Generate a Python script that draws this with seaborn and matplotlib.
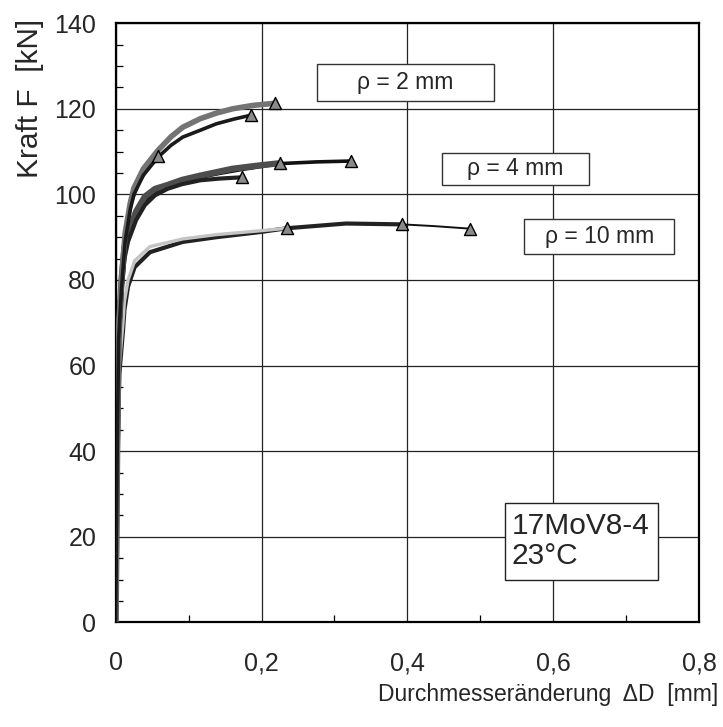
import numpy as np
import pandas as pd
import matplotlib
matplotlib.use('Agg')
import matplotlib.pyplot as plt
from matplotlib.patches import Rectangle
from matplotlib.ticker import MultipleLocator, FuncFormatter
import seaborn as sns

# Messkurven Kraft F [kN] ueber Durchmesseraenderung dD [mm]
rho2_a_x = [0, 0.002, 0.004, 0.008, 0.013, 0.020, 0.025, 0.038, 0.058, 0.076, 0.092, 0.116, 0.138, 0.160, 0.188, 0.218]
rho2_a_f = [0, 40, 68, 80, 91, 98, 101.5, 106, 110.3, 113.5, 115.7, 117.7, 119.0, 120.0, 120.8, 121.3]
rho2_b_x = [0, 0.002, 0.004, 0.008, 0.013, 0.020, 0.025, 0.038, 0.058, 0.076, 0.092, 0.116, 0.138, 0.162, 0.185]
rho2_b_f = [0, 38, 66, 78, 89, 96.5, 100, 104.5, 108.7, 111.5, 113.4, 115.0, 116.5, 117.6, 118.5]
rho2_c_x = [0, 0.002, 0.004, 0.008, 0.013, 0.020, 0.030, 0.045, 0.058]
rho2_c_f = [0, 39, 67, 79, 90, 97.5, 102.5, 106.5, 109.0]

rho4_a_x = [0, 0.002, 0.004, 0.008, 0.012, 0.017, 0.028, 0.040, 0.054, 0.071, 0.091, 0.116, 0.142, 0.173]
rho4_a_f = [0, 38, 65, 77, 85, 89, 94, 97.5, 99.8, 101.3, 102.4, 103.3, 103.7, 104.0]
rho4_b_x = [0, 0.002, 0.004, 0.008, 0.012, 0.017, 0.028, 0.040, 0.054, 0.071, 0.091, 0.116, 0.138, 0.160, 0.193, 0.225]
rho4_b_f = [0, 40, 67, 80, 87.5, 91, 96, 99.5, 101.3, 102.2, 103.4, 104.4, 105.2, 106.0, 106.7, 107.3]
rho4_c_x = [0, 0.002, 0.004, 0.008, 0.012, 0.017, 0.028, 0.040, 0.054, 0.071, 0.091, 0.116, 0.142, 0.172, 0.225, 0.275, 0.322]
rho4_c_f = [0, 39, 66, 78, 86.5, 90, 95, 98.5, 100.7, 101.8, 103, 104, 104.9, 105.8, 107.2, 107.6, 107.8]

rho10_a_x = [0, 0.002, 0.005, 0.008, 0.010, 0.012, 0.017, 0.026, 0.047, 0.092, 0.138, 0.198, 0.235]
rho10_a_f = [0, 35, 60, 66, 70, 75, 80, 84.5, 87.8, 89.6, 90.6, 91.5, 92.1]
rho10_b_x = [0, 0.002, 0.005, 0.008, 0.010, 0.012, 0.017, 0.026, 0.047, 0.092, 0.138, 0.198, 0.235, 0.316, 0.393]
rho10_b_f = [0, 34, 58, 64, 68, 73, 78.5, 83, 86.5, 88.9, 90.0, 91.2, 92.1, 93.2, 93.0]
rho10_c_x = [0, 0.002, 0.005, 0.008, 0.010, 0.012, 0.017, 0.026, 0.047, 0.092, 0.138, 0.198, 0.235, 0.316, 0.393, 0.436, 0.486]
rho10_c_f = [0, 34, 58, 64, 68, 73, 78.5, 83, 86.5, 88.9, 90.0, 91.2, 92.1, 93.2, 93.0, 92.6, 92.0]

# Beschriftungen
rho_labels = ['ρ = 2 mm', 'ρ = 4 mm', 'ρ = 10 mm']
rho_label_x = [0.397, 0.548, 0.663]
rho_label_f = [126.1, 106.0, 90.2]
werkstoff = '17MoV8-4\n23°C'
x_ticks = [0, 0.2, 0.4, 0.6, 0.8]
y_ticks = [0, 20, 40, 60, 80, 100, 120, 140]

sns.set_style('white')
plt.rcParams['font.family'] = ['Liberation Sans', 'DejaVu Sans']

fig = plt.figure(figsize=(7.23, 7.27), dpi=100)
ax = fig.add_axes([0.160, 0.144, 0.807, 0.824])

kurven = [
    # x, F, Farbe, Linienbreite
    (rho10_c_x, rho10_c_f, '#111111', 1.4),
    (rho10_b_x, rho10_b_f, '#222222', 3.0),
    (rho10_a_x, rho10_a_f, '#c4c4c4', 2.4),
    (rho4_c_x, rho4_c_f, '#111111', 2.6),
    (rho4_b_x, rho4_b_f, '#4d4d4d', 4.5),
    (rho4_a_x, rho4_a_f, '#222222', 3.0),
    (rho2_c_x, rho2_c_f, '#444444', 3.0),
    (rho2_a_x, rho2_a_f, '#747474', 4.0),
    (rho2_b_x, rho2_b_f, '#1a1a1a', 2.6),
]

for xs, fs, farbe, lw in kurven:
    sns.lineplot(x=xs, y=fs, ax=ax, color=farbe, linewidth=lw, sort=False,
                 estimator=None, zorder=3)

# Dreiecke am Ende jeder Kurve
enden = pd.DataFrame({'x': [k[0][-1] for k in kurven], 'F': [k[1][-1] for k in kurven]})
sns.scatterplot(data=enden, x='x', y='F', ax=ax, marker='^', s=75,
                color='#8a8a8a', edgecolor='black', linewidth=1.0, zorder=5)

ax.set_xlim(0, 0.8)
ax.set_ylim(0, 140)
ax.set_xticks(x_ticks)
ax.set_yticks(y_ticks)
ax.xaxis.set_minor_locator(MultipleLocator(0.1))
ax.yaxis.set_minor_locator(MultipleLocator(5))
ax.xaxis.set_major_formatter(FuncFormatter(lambda v, p: '0' if v == 0 else f'{v:.1f}'.replace('.', ',')))
ax.tick_params(which='both', bottom=True, left=True, top=False, right=False)
ax.tick_params(which='major', direction='in', length=0, labelsize=18, pad=21)
ax.tick_params(axis='y', which='major', pad=14)
ax.tick_params(which='minor', direction='in', length=5, width=0.9, color='black')
ax.grid(True, which='major', color='#222222', linewidth=0.9)
for sp in ax.spines.values():
    sp.set_color('black')
    sp.set_linewidth(1.6)
    sp.set_visible(True)

ax.set_xlabel('Durchmesseränderung  ΔD  [mm]', fontsize=16.5, ha='right')
ax.xaxis.set_label_coords(1.033, -0.102)
ax.set_ylabel('Kraft F  [kN]', fontsize=21.5, ha='right')
ax.yaxis.set_label_coords(-0.122, 1.008)

# Kaesten um die Kerbradien (Groesse in Datenkoordinaten)
box_w = [0.243, 0.201, 0.205]
box_h = [8.6, 7.5, 8.2]
for txt, tx, tf, bw, bh in zip(rho_labels, rho_label_x, rho_label_f, box_w, box_h):
    ax.add_patch(Rectangle((tx - bw / 2, tf - bh / 2), bw, bh, facecolor='white',
                           edgecolor='#333333', linewidth=1.0, zorder=6))
    ax.text(tx, tf, txt, fontsize=16.5, ha='center', va='center', zorder=7)

ax.add_patch(Rectangle((0.534, 9.8), 0.210, 18.2, facecolor='white',
                       edgecolor='#222222', linewidth=1.0, zorder=6))
ax.text(0.543, 19.0, werkstoff, fontsize=21.5, ha='left', va='center', zorder=7, linespacing=1.05)

fig.savefig('out.png', dpi=100)
